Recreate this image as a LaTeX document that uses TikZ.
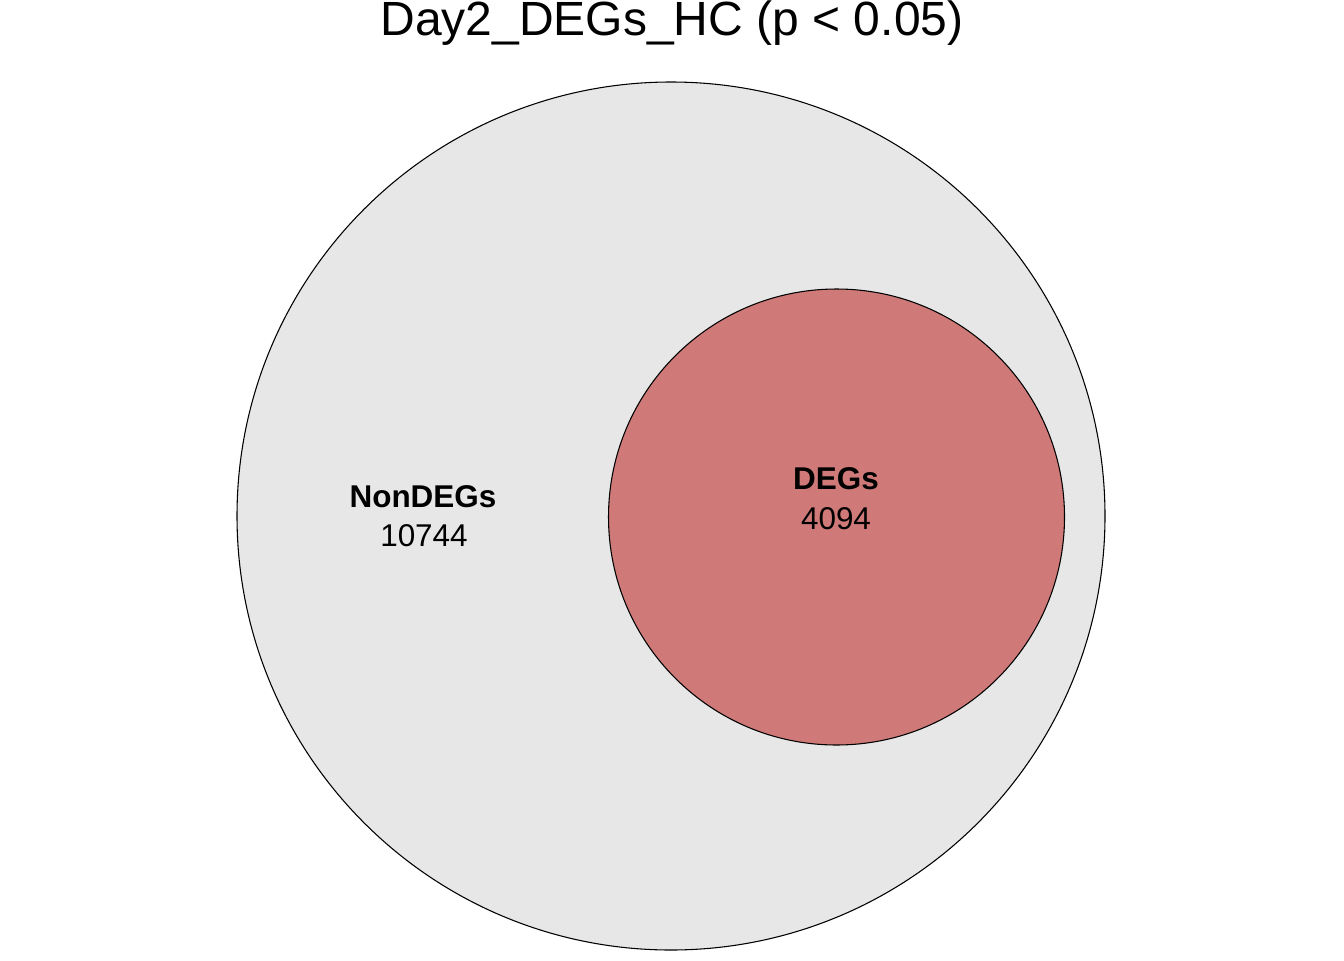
\documentclass[tikz,border=0pt]{standalone}
\usepackage{fontspec}
\setmainfont{Liberation Sans}
\definecolor{outerfill}{HTML}{E7E7E7}
\definecolor{innerfill}{HTML}{CF7A78}
\begin{document}
\begin{tikzpicture}[x=0.75pt,y=-0.75pt,
  setcircle/.style={draw=black,line width=0.8pt},
  lbl/.style={anchor=base,inner sep=0pt,font=\fontsize{23.6pt}{27pt}\selectfont}]
\useasboundingbox (0,0) rectangle (1344,960);
\fill[white] (0,0) rectangle (1344,960);
\path[setcircle,fill=outerfill] (671,516) circle[radius=434];
\path[setcircle,fill=innerfill] (836.5,517) circle[radius=228];
\node[anchor=base,inner sep=0pt,font=\fontsize{36pt}{40pt}\selectfont] (title) at (672,36) {Day2\_DEGs\_HC (p < 0.05)};
\node[lbl,font=\fontsize{23.6pt}{27pt}\selectfont\bfseries] (nonlab) at (423,507) {NonDEGs};
\node[lbl] (nonnum) at (424,546) {10744};
\node[lbl,font=\fontsize{23.6pt}{27pt}\selectfont\bfseries] (deglab) at (836,489) {DEGs};
\node[lbl] (degnum) at (836,529) {4094};
\end{tikzpicture}
\end{document}
